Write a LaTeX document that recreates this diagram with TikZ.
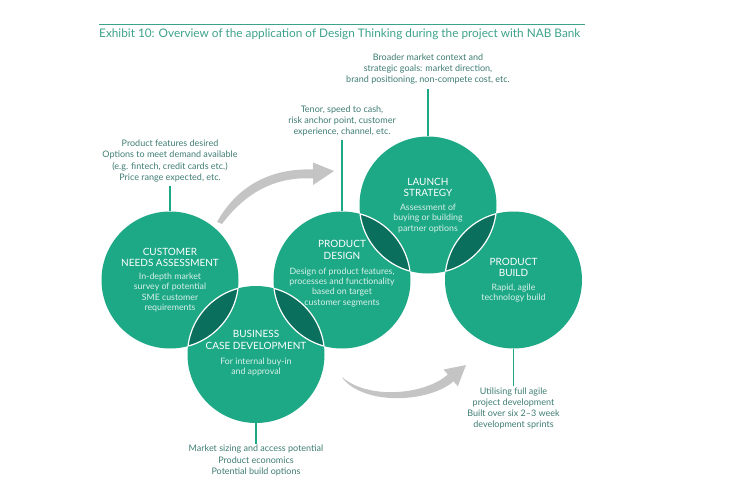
\documentclass[tikz,border=0pt]{standalone}
\usepackage{fontspec}
\setmainfont{Lato}
\usetikzlibrary{arrows.meta}
\definecolor{circ}{HTML}{1DA886}
\definecolor{lens}{HTML}{0B6F5E}
\definecolor{annotxt}{HTML}{3E7C72}
\definecolor{ttl}{HTML}{3DA28B}
\definecolor{bodytxt}{HTML}{D8F1EA}
\definecolor{arr}{HTML}{C4C4C4}
\begin{document}
\begin{tikzpicture}[x=1pt,y=-1pt,
  stage/.style={circle, fill=circ, minimum size=137pt, inner sep=0pt},
  head/.style={text=white, font=\fontsize{10}{11.7}\selectfont, align=center, inner sep=0pt},
  body/.style={text=bodytxt, font=\fontsize{8.8}{10.1}\selectfont, align=center, inner sep=0pt},
  anno/.style={text=annotxt, font=\fontsize{9}{11.2}\selectfont, align=center, inner sep=0pt},
  conn/.style={draw=circ, line width=1.1pt},
  rim/.style={draw=white, line width=1.2pt},
  arrowshape/.style={fill=arr},
]
\useasboundingbox (0,0) rectangle (750,492);

% title
\draw[ttl, line width=0.9pt] (99,24) -- (585,24);
\node[anchor=base west, inner sep=0pt, text=ttl, font=\fontsize{11.8}{13}\selectfont] (title) at (99,37.5)
  {Exhibit 10: Overview of the application of Design Thinking during the project with NAB Bank};

% circle centres
\coordinate (pC) at (170,280);
\coordinate (pB) at (256,354.5);
\coordinate (pD) at (342,280);
\coordinate (pL) at (428,205);
\coordinate (pP) at (513.5,280);

\node[stage] (cna) at (pC) {};
\node[stage] (bcd) at (pB) {};
\node[stage] (pdes) at (pD) {};
\node[stage] (lst) at (pL) {};
\node[stage] (pbld) at (pP) {};

% lenses
\foreach \a/\b in {pC/pB, pB/pD, pD/pL, pL/pP}{
  \begin{scope}
    \clip (\a) circle (68.5pt);
    \fill[lens] (\b) circle (68.5pt);
    \draw[rim] (\b) circle (68.5pt);
  \end{scope}
  \begin{scope}
    \clip (\b) circle (68.5pt);
    \draw[rim] (\a) circle (68.5pt);
  \end{scope}
}

% circle texts
\node[head] (hC) at (170,257.5) {CUSTOMER\\NEEDS ASSESSMENT};
\node[body] (bC) at (170,292.5) {In-depth market\\survey of potential\\SME customer\\requirements};

\node[head] (hD) at (342,250) {PRODUCT\\DESIGN};
\node[body] (bD) at (342,287.5) {Design of product features,\\processes and functionality\\based on target\\customer segments};

\node[head] (hL) at (428,187.5) {LAUNCH\\STRATEGY};
\node[body] (bL) at (428,218.5) {Assessment of\\buying or building\\partner options};

\node[head] (hP) at (513.5,267.5) {PRODUCT\\BUILD};
\node[body] (bP) at (513.5,293.5) {Rapid, agile\\technology build};

\node[head] (hB) at (256,340) {BUSINESS\\CASE DEVELOPMENT};
\node[body] (bB) at (256,367) {For internal buy-in\\and approval};

% annotations
\node[anno] (aC) at (170,161) {Product features desired\\Options to meet demand available\\(e.g. fintech, credit cards etc.)\\Price range expected, etc.};
\node[anno] (aD) at (342,121) {Tenor, speed to cash,\\risk anchor point, customer\\experience, channel, etc.};
\node[anno] (aL) at (428,69) {Broader market context and\\strategic goals: market direction,\\brand positioning, non-compete cost, etc.};
\node[anno] (aP) at (513.5,408.5) {Utilising full agile\\project development\\Built over six 2--3 week\\development sprints};
\node[anno] (aB) at (256,460.5) {Market sizing and access potential\\Product economics\\Potential build options};

\draw[conn, shorten <=4pt] (aC.south) -- (cna.north);
\draw[conn, shorten <=4pt] (aD.south) -- (pdes.north);
\draw[conn, shorten <=4pt] (aL.south) -- (lst.north);
\draw[conn, shorten <=1pt] (aP.north) -- (pbld.south);
\draw[conn, shorten <=1pt] (aB.north) -- (bcd.south);

% gray curved arrows
\fill[arrowshape] (217,222) .. controls (236,188) and (268,168) .. (313,169.5)
  -- (313,162.5) -- (334,171) -- (313,185) -- (313,178.5)
  .. controls (272,176) and (243,196) .. (222,224) -- cycle;

\fill[arrowshape] (342,377) .. controls (368,400) and (425,395) .. (447.8,374.5)
  -- (443.6,369.5) -- (466,365) -- (457.8,386.3) -- (453.6,381.3)
  .. controls (430,402) and (368,406) .. (344,380) -- cycle;
\end{tikzpicture}
\end{document}
